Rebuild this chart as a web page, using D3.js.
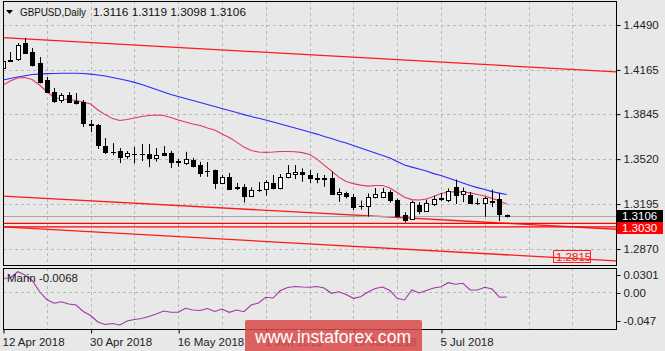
<!DOCTYPE html>
<html><head><meta charset="utf-8">
<script src="https://cdn.jsdelivr.net/npm/d3@7"></script>
<style>
body{margin:0;background:#e8e8e8;}
svg{display:block;font-family:"Liberation Sans",Arial,sans-serif;}
</style>
</head><body><svg id="c" width="665" height="351"></svg>
<script>
// ---------- data ----------
const dateLabels = ["12 Apr 2018","30 Apr 2018","16 May 2018","1 Jun 2018","19 Jun 2018","5 Jul 2018"];
const dateIdx = [0,12,24,36,48,60];
const opens  = [1.4179,1.4237,1.4244,1.4360,1.4295,1.4215,1.4092,1.4005,1.3944,1.3984,1.3940,1.3933,1.3774,1.3766,1.3614,1.3571,1.3578,1.3542,1.3557,1.3557,1.3557,1.3528,1.3564,1.3562,1.3506,1.3489,1.3517,1.3477,1.3437,1.3441,1.3349,1.3392,1.3318,1.3316,1.3253,1.3296,1.3301,1.3347,1.3311,1.3392,1.3415,1.3430,1.3408,1.3381,1.3381,1.3381,1.3267,1.3272,1.3248,1.3184,1.3178,1.3245,1.3249,1.3284,1.3224,1.3119,1.3086,1.3188,1.3148,1.3195,1.3235,1.3224,1.3321,1.3267,1.3264,1.3206,1.3206,1.3217,1.3231,1.3116];
const highs  = [1.4251,1.4295,1.4360,1.4396,1.4324,1.4258,1.4114,1.4034,1.3998,1.4005,1.3998,1.3947,1.3803,1.3774,1.3672,1.3636,1.3600,1.3578,1.3607,1.3629,1.3629,1.3600,1.3614,1.3580,1.3520,1.3573,1.3528,1.3501,1.3499,1.3444,1.3405,1.3419,1.3347,1.3339,1.3316,1.3354,1.3368,1.3405,1.3412,1.3477,1.3477,1.3453,1.3441,1.3419,1.3405,1.3429,1.3308,1.3284,1.3267,1.3220,1.3272,1.3311,1.3311,1.3296,1.3236,1.3137,1.3220,1.3209,1.3227,1.3256,1.3274,1.3308,1.3372,1.3314,1.3282,1.3236,1.3248,1.3300,1.3274,1.3119];
const lows   = [1.4150,1.4222,1.4230,1.4280,1.4190,1.4067,1.3998,1.3926,1.3926,1.3926,1.3915,1.3752,1.3716,1.3593,1.3557,1.3549,1.3491,1.3520,1.3491,1.3506,1.3462,1.3502,1.3542,1.3455,1.3465,1.3477,1.3460,1.3392,1.3392,1.3303,1.3339,1.3296,1.3296,1.3206,1.3248,1.3284,1.3256,1.3301,1.3301,1.3381,1.3376,1.3356,1.3347,1.3345,1.3320,1.3260,1.3211,1.3236,1.3151,1.3155,1.3104,1.3236,1.3238,1.3206,1.3101,1.3061,1.3079,1.3122,1.3139,1.3180,1.3217,1.3209,1.3195,1.3209,1.3195,1.3188,1.3103,1.3173,1.3072,1.3098];
const closes = [1.4230,1.4233,1.4345,1.4287,1.4201,1.4078,1.4005,1.3940,1.3984,1.3933,1.3926,1.3781,1.3770,1.3622,1.3571,1.3569,1.3535,1.3564,1.3555,1.3560,1.3528,1.3549,1.3553,1.3501,1.3499,1.3518,1.3470,1.3421,1.3434,1.3345,1.3388,1.3301,1.3314,1.3251,1.3296,1.3300,1.3358,1.3308,1.3392,1.3421,1.3430,1.3412,1.3381,1.3379,1.3379,1.3267,1.3284,1.3253,1.3173,1.3180,1.3245,1.3267,1.3282,1.3224,1.3112,1.3083,1.3209,1.3148,1.3202,1.3235,1.3238,1.3292,1.3264,1.3289,1.3206,1.3202,1.3236,1.3213,1.3125,1.3106];
const maSlow = [1.4092,1.4103,1.4114,1.4123,1.4132,1.4135,1.4138,1.4139,1.4141,1.4141,1.4141,1.4139,1.4135,1.4128,1.4121,1.4110,1.4099,1.4088,1.4075,1.4060,1.4041,1.4023,1.4005,1.3987,1.3973,1.3958,1.3944,1.3929,1.3915,1.3900,1.3886,1.3871,1.3857,1.3842,1.3828,1.3815,1.3803,1.3788,1.3774,1.3759,1.3745,1.3730,1.3716,1.3701,1.3683,1.3669,1.3651,1.3636,1.3618,1.3600,1.3582,1.3564,1.3546,1.3528,1.3502,1.3477,1.3462,1.3448,1.3434,1.3415,1.3401,1.3383,1.3365,1.3347,1.3329,1.3314,1.3300,1.3285,1.3274,1.3264];
const maFast = [1.4056,1.4085,1.4107,1.4110,1.4096,1.4056,1.4009,1.3965,1.3955,1.3951,1.3944,1.3933,1.3918,1.3875,1.3842,1.3813,1.3799,1.3806,1.3817,1.3828,1.3835,1.3839,1.3835,1.3821,1.3803,1.3788,1.3774,1.3763,1.3745,1.3730,1.3701,1.3676,1.3643,1.3607,1.3582,1.3571,1.3569,1.3571,1.3575,1.3575,1.3573,1.3567,1.3553,1.3520,1.3477,1.3434,1.3390,1.3358,1.3343,1.3332,1.3325,1.3329,1.3329,1.3311,1.3278,1.3245,1.3227,1.3224,1.3231,1.3249,1.3271,1.3282,1.3285,1.3282,1.3276,1.3264,1.3253,1.3236,1.3217,1.3195];
const momentum = [0.0246,0.0251,0.0356,0.0301,0.0209,0.0024,-0.0110,-0.0173,-0.0147,-0.0185,-0.0202,-0.0311,-0.0378,-0.0487,-0.0529,-0.0512,-0.0537,-0.0470,-0.0445,-0.0428,-0.0395,-0.0353,-0.0302,-0.0324,-0.0324,-0.0257,-0.0286,-0.0294,-0.0260,-0.0311,-0.0269,-0.0324,-0.0286,-0.0314,-0.0202,-0.0168,-0.0073,-0.0085,0.0041,0.0091,0.0108,0.0100,0.0095,0.0108,0.0083,-0.0006,0.0021,-0.0026,-0.0090,-0.0063,0.0016,0.0075,0.0100,0.0041,-0.0090,-0.0118,0.0050,-0.0001,0.0041,0.0083,0.0105,0.0172,0.0145,0.0162,0.0050,0.0050,0.0095,0.0066,-0.0073,-0.0068];
const priceTicks = [1.4490,1.4165,1.3845,1.3520,1.3195,1.2870];
const momTicks = [0.0301,0,-0.047];
const momTickLabels = ["0.0301","0.00","-0.047"];
const trendTop = [[0,1.4398],[84,1.4151]];
const trendMid = [[0,1.3253],[84,1.3013]];
const trendLow = [[0,1.3030],[84,1.2784]];
const hLevels = [1.3055,1.3030];
const bidPrice = 1.3106;
const levelPrice = 1.3030;
const levelLabel = "1.2815";
const titleSymbol = "GBPUSD,Daily";
const titleOHLC = "1.3116 1.3119 1.3098 1.3106";
const indName = "Marin -0.0068";

// ---------- layout ----------
const L = 3, R = 617, T = 1, MB = 265, IT = 268, IB = 329;
const svg = d3.select("#c");
const x = d3.scaleLinear().domain([0,60]).range([3,441]);
const y = d3.scaleLinear().domain([1.2870,1.4490]).range([249,25]);
const ym = d3.scaleLinear().domain([-0.047,0.0301]).range([321,275]);
const px = v => Math.round(v) + 0.5;

svg.append("rect").attr("width",665).attr("height",351).attr("fill","#e8e8e8");
const defs = svg.append("defs");
defs.append("clipPath").attr("id","cm").append("rect").attr("x",L).attr("y",T).attr("width",R-L).attr("height",MB-T);
defs.append("clipPath").attr("id","ci").append("rect").attr("x",L).attr("y",IT).attr("width",R-L).attr("height",IB-IT);

// grid
const grid = svg.append("g").attr("stroke","#b8b8b8").attr("stroke-dasharray","3,3").attr("stroke-width",1);
const vIdx = d3.range(6,84,6);
vIdx.forEach(i => {
  grid.append("line").attr("x1",px(x(i))).attr("x2",px(x(i))).attr("y1",T).attr("y2",MB);
  grid.append("line").attr("x1",px(x(i))).attr("x2",px(x(i))).attr("y1",IT).attr("y2",IB);
});
priceTicks.forEach(p => grid.append("line").attr("x1",L).attr("x2",R).attr("y1",px(y(p))).attr("y2",px(y(p))));
grid.append("line").attr("x1",L).attr("x2",R).attr("y1",px(ym(0))-1).attr("y2",px(ym(0))-1);

// main plot
const gm = svg.append("g").attr("clip-path","url(#cm)");
const tl = d3.line().x(d => x(d[0])).y(d => y(d[1]));
[trendTop,trendMid,trendLow].forEach(t => gm.append("path").attr("d",tl(t)).attr("fill","none").attr("stroke","#ff1a1a").attr("stroke-width",1.3));
hLevels.forEach(h => gm.append("line").attr("x1",L).attr("x2",R).attr("y1",y(h)).attr("y2",y(h)).attr("stroke","#ff0000").attr("stroke-width",1.2));
gm.append("line").attr("x1",L).attr("x2",R).attr("y1",px(y(bidPrice))).attr("y2",px(y(bidPrice))).attr("stroke","#a8a8a8").attr("stroke-width",1);

const ml = d3.line().x((d,i) => x(i)).y(d => y(d));
gm.append("path").attr("d",ml(maSlow)).attr("fill","none").attr("stroke","#2a2aff").attr("stroke-width",1.1);
gm.append("path").attr("d",ml(maFast)).attr("fill","none").attr("stroke","#e23a58").attr("stroke-width",1.1);

const cg = gm.append("g");
opens.forEach((o,i) => {
  const c = closes[i], xi = Math.round(x(i));
  cg.append("line").attr("x1",xi+0.5).attr("x2",xi+0.5).attr("y1",y(highs[i])).attr("y2",y(lows[i])).attr("stroke","#000");
  const top = Math.round(y(Math.max(o,c))), bot = Math.round(y(Math.min(o,c)));
  if (bot - top < 1) {
    cg.append("line").attr("x1",xi-2).attr("x2",xi+3).attr("y1",top+0.5).attr("y2",top+0.5).attr("stroke","#000");
  } else {
    cg.append("rect").attr("x",xi-1.5).attr("y",top+0.5).attr("width",4).attr("height",bot-top)
      .attr("fill", c >= o ? "#fff" : "#000").attr("stroke","#000").attr("stroke-width",1);
  }
});

// level label box
const ll = svg.append("g");
ll.append("rect").attr("x",553.5).attr("y",250.5).attr("width",37).attr("height",12).attr("fill","none").attr("stroke","#ff2020");
ll.append("text").attr("x",556).attr("y",260.5).attr("fill","#ff2020").attr("font-size","11.5px").text(levelLabel);

// indicator
const gi = svg.append("g").attr("clip-path","url(#ci)");
const mline = d3.line().x((d,i) => x(i)).y(d => ym(d));
gi.append("path").attr("d",mline(momentum)).attr("fill","none").attr("stroke","#a236a8").attr("stroke-width",1.1);

// borders
const bd = svg.append("g").attr("fill","none").attr("stroke","#000").attr("stroke-width",1);
bd.append("rect").attr("x",L+0.5).attr("y",T+0.5).attr("width",R-L-1).attr("height",MB-T);
bd.append("rect").attr("x",L+0.5).attr("y",IT+0.5).attr("width",R-L-1).attr("height",IB-IT);

// right axes
const ay = svg.append("g").attr("transform",`translate(${R-0.5},0)`)
  .call(d3.axisRight(y).tickValues(priceTicks).tickFormat(d3.format(".4f")).tickSize(4).tickPadding(3));
const am = svg.append("g").attr("transform",`translate(${R-0.5},0)`)
  .call(d3.axisRight(ym).tickValues(momTicks).tickFormat((d,i) => momTickLabels[i]).tickSize(4).tickPadding(3));
[ay,am].forEach(a => {
  a.select(".domain").remove();
  a.selectAll("text").attr("font-size","11.5px").attr("fill","#222").attr("font-family","Liberation Sans, Arial, sans-serif");
  a.selectAll("line").attr("stroke","#000");
});

// price boxes
function priceBox(p, bg, yy) {
  svg.append("rect").attr("x",617).attr("y",yy).attr("width",46).attr("height",12).attr("fill",bg);
  svg.append("text").attr("x",622).attr("y",yy+10).attr("fill","#fff").attr("font-size","11.5px").text(p.toFixed(4));
}
priceBox(bidPrice,"#000",Math.round(y(bidPrice))-6);
priceBox(levelPrice,"#ff0000",Math.round(y(levelPrice))-5);

// bottom axis
const ax = svg.append("g").attr("transform",`translate(0,${IB+0.5})`)
  .call(d3.axisBottom(x).tickValues(dateIdx).tickFormat((d,i) => dateLabels[i]).tickSize(4).tickPadding(2));
ax.select(".domain").remove();
ax.selectAll("line").attr("stroke","#000").attr("transform","translate(0.5,0)");
ax.selectAll("text").attr("text-anchor","start").attr("font-size","11.5px").attr("fill","#222")
  .attr("font-family","Liberation Sans, Arial, sans-serif").attr("dx","-1").attr("dy","0.9em");

// title
svg.append("path").attr("d","M6,10 L13,10 L9.5,14 Z").attr("fill","#000");
svg.append("text").attr("x",20).attr("y",15.5).attr("font-size","11px").attr("fill","#111")
  .attr("textLength",66).attr("lengthAdjust","spacingAndGlyphs").text(titleSymbol);
svg.append("text").attr("x",93).attr("y",15.5).attr("font-size","11.3px").attr("fill","#111")
  .attr("textLength",153).attr("lengthAdjust","spacingAndGlyphs").text(titleOHLC);
svg.append("text").attr("x",7).attr("y",282).attr("font-size","11.5px").attr("fill","#222").text(indName);

// watermark (semi-transparent, dates show through as in the reference)
svg.append("rect").attr("x",245).attr("y",320).attr("width",177).attr("height",36).attr("rx",2).attr("fill","#d94a4a").attr("opacity",0.85);
svg.append("text").attr("x",255).attr("y",343).attr("font-size","17.6px").attr("fill","#fff")
  .attr("textLength",156).attr("lengthAdjust","spacingAndGlyphs").text("www.instaforex.com");
</script></body></html>
